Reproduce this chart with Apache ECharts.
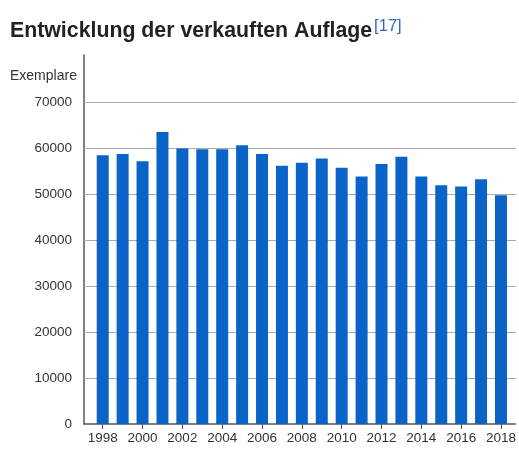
<!DOCTYPE html>
<html>
<head>
<meta charset="utf-8">
<script src="https://cdn.jsdelivr.net/npm/echarts@6/dist/echarts.min.js"></script>
<style>
  html, body { margin: 0; padding: 0; background: #fff; }
  #chart { width: 519px; height: 453px; }
</style>
</head>
<body>
<div id="chart"></div>
<script>
let years = [1998, 1999, 2000, 2001, 2002, 2003, 2004, 2005, 2006, 2007, 2008,
             2009, 2010, 2011, 2012, 2013, 2014, 2015, 2016, 2017, 2018];
let auflage = [58500, 58800, 57200, 63600, 60000, 59800, 59800, 60700, 58800, 56200, 56900,
               57800, 55800, 53900, 56600, 58200, 53900, 52000, 51700, 53300, 49800];
let yearTicks = [1998, 2000, 2002, 2004, 2006, 2008, 2010, 2012, 2014, 2016, 2018];
let yLabels = [0, 10000, 20000, 30000, 40000, 50000, 60000, 70000];
let yGrid = [10000, 20000, 30000, 40000, 50000, 60000, 70000];

let myChart = echarts.init(document.getElementById('chart'));
let font = 'Liberation Sans, Arial, sans-serif';

let barData = [];
for (let i = 0; i < years.length; i++) {
    barData.push([years[i], auflage[i]]);
}

let option = {
    animation: false,
    textStyle: { fontFamily: font },
    title: [
        {
            left: 5,
            top: 13,
            text: '{t|Entwicklung der verkauften Auflage}{s|[17]}',
            textStyle: {
                rich: {
                    t: { fontSize: 21.3, fontWeight: 'bold', color: '#222', fontFamily: font },
                    s: { fontSize: 16.5, fontWeight: 'normal', color: '#3366cc', fontFamily: font, padding: [0, 0, 10, 2] }
                }
            }
        },
        {
            left: 5,
            top: 64,
            text: 'Exemplare',
            textStyle: { fontSize: 14, fontWeight: 'normal', color: '#333', fontFamily: font }
        }
    ],
    grid: {
        left: 84,
        right: 3,
        top: 55,
        bottom: 29
    },
    xAxis: {
        type: 'value',
        min: 1997.06,
        max: 2018.72,
        axisLine: { show: true, lineStyle: { color: '#555', width: 1.5 } },
        axisTick: { show: true, customValues: yearTicks, length: 5, lineStyle: { color: '#555' } },
        axisLabel: {
            customValues: yearTicks,
            color: '#333',
            fontSize: 13.5,
            margin: 7,
            formatter: function (v) { return String(v); }
        },
        splitLine: { show: false }
    },
    yAxis: {
        type: 'value',
        min: 0,
        max: 80340,
        axisLine: { show: true, lineStyle: { color: '#555', width: 1.5 } },
        axisTick: {
            show: true,
            customValues: yGrid,
            inside: true,
            length: 432,
            lineStyle: { color: '#aaa', width: 1 }
        },
        axisLabel: {
            customValues: yLabels,
            color: '#333',
            fontSize: 13.5,
            margin: 12,
            formatter: function (v) { return String(v); }
        },
        splitLine: { show: false }
    },
    series: [{
        type: 'bar',
        data: barData,
        barWidth: 12,
        itemStyle: { color: '#0a64c8' }
    }]
};
myChart.setOption(option);

window.addEventListener('resize', function () {
    myChart.resize();
});
</script>
</body>
</html>
